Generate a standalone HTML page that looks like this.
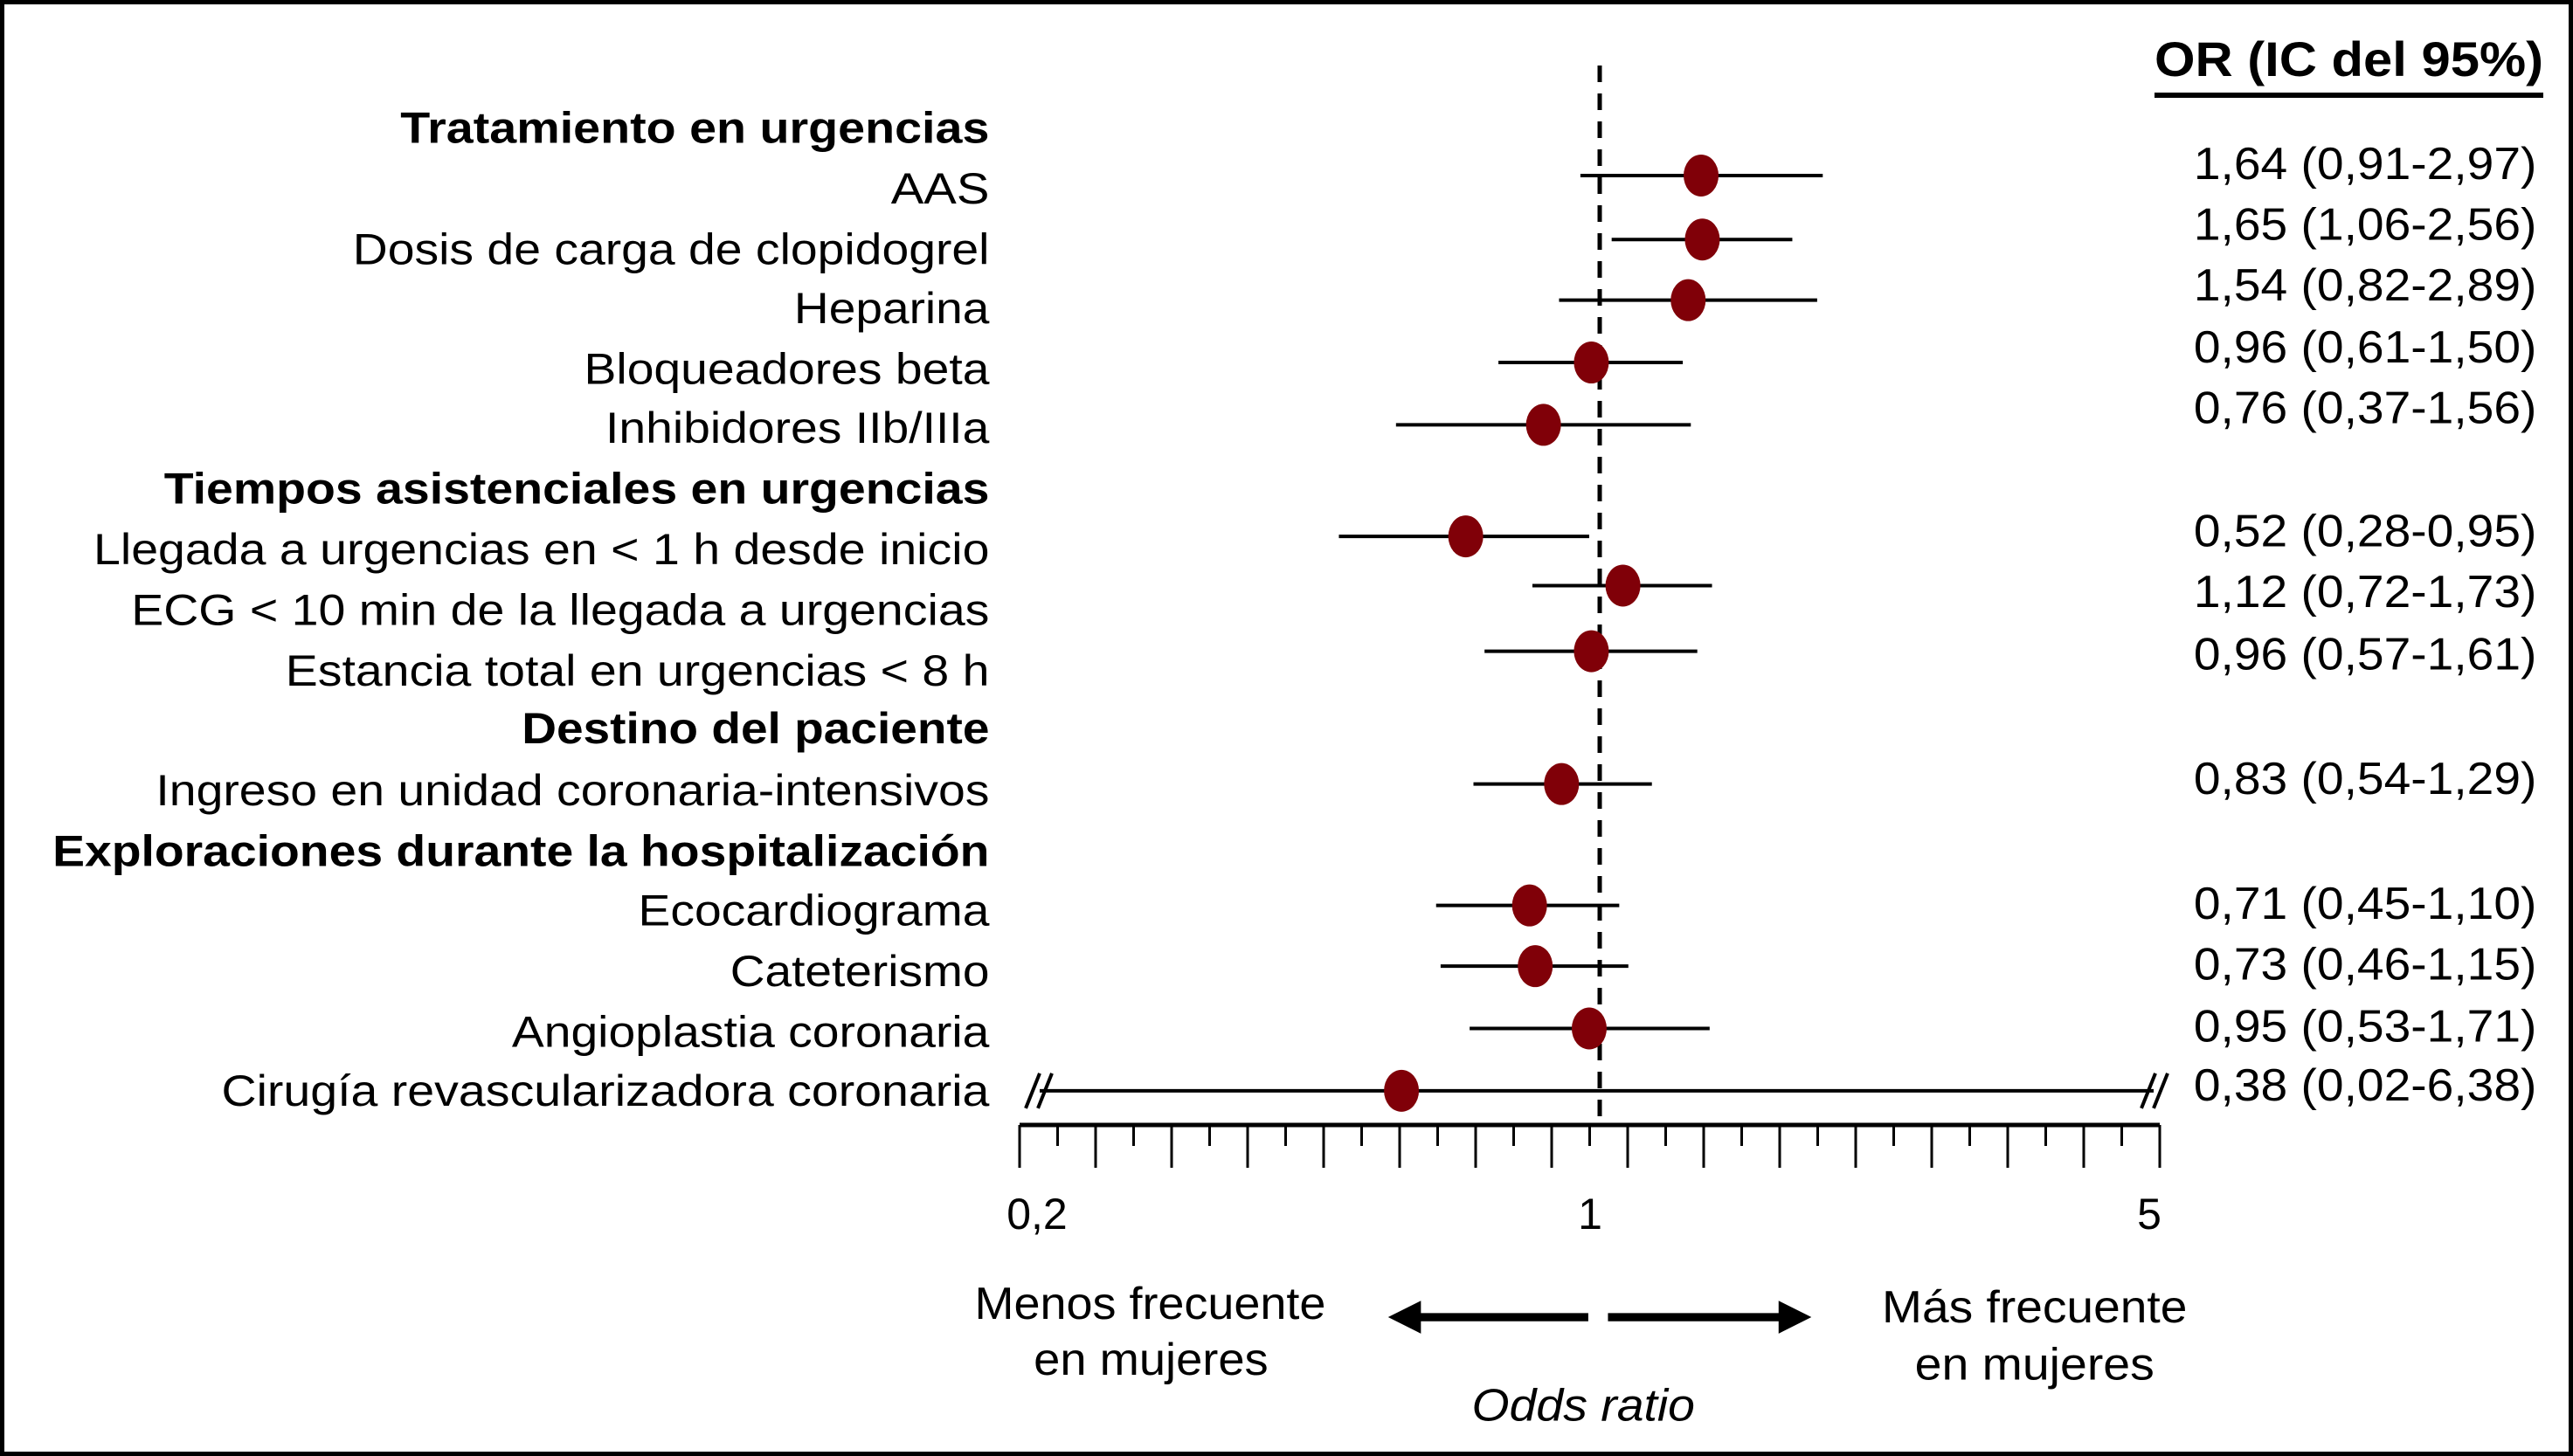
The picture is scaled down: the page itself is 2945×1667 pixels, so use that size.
<!DOCTYPE html>
<html><head><meta charset="utf-8"><style>
html,body{margin:0;padding:0;background:#fff}
svg{display:block}
text{font-family:"Liberation Sans",Arial,sans-serif;fill:#000}
</style></head><body>
<svg id="chart" width="2945" height="1667" viewBox="0 0 2945 1667" xmlns="http://www.w3.org/2000/svg">
<rect x="2.5" y="2.5" width="2940" height="1662" fill="#fff" stroke="#000" stroke-width="5"/>
<g id="g"></g>
</svg>
<script>
const labels=["AAS","Dosis de carga de clopidogrel","Heparina","Bloqueadores beta","Inhibidores IIb/IIIa","Llegada a urgencias en < 1 h desde inicio","ECG < 10 min de la llegada a urgencias","Estancia total en urgencias < 8 h","Ingreso en unidad coronaria-intensivos","Ecocardiograma","Cateterismo","Angioplastia coronaria","Cirugía revascularizadora coronaria"];
const orValues=[1.64,1.65,1.54,0.96,0.76,0.52,1.12,0.96,0.83,0.71,0.73,0.95,0.38];
const ciLow=[0.91,1.06,0.82,0.61,0.37,0.28,0.72,0.57,0.54,0.45,0.46,0.53,0.02];
const ciHigh=[2.97,2.56,2.89,1.50,1.56,0.95,1.73,1.61,1.29,1.10,1.15,1.71,6.38];
const orText=["1,64 (0,91-2,97)","1,65 (1,06-2,56)","1,54 (0,82-2,89)","0,96 (0,61-1,50)","0,76 (0,37-1,56)","0,52 (0,28-0,95)","1,12 (0,72-1,73)","0,96 (0,57-1,61)","0,83 (0,54-1,29)","0,71 (0,45-1,10)","0,73 (0,46-1,15)","0,95 (0,53-1,71)","0,38 (0,02-6,38)"];
const headers=["Tratamiento en urgencias","Tiempos asistenciales en urgencias","Destino del paciente","Exploraciones durante la hospitalización"];
const tickLabels=["0,2","1","5"];
const axisMin=0.2, axisMax=5;

const S=1.878;
const rowY=[115,152,188,225,261,335,372,409,482,555,592,629,665].map(v=>v*S);
const lineY=[107,146,183,221,259,327,357,397,478,552,589,627,665].map(v=>v*S);
const orY=[100,137,174,212,249,324,361,399,475,551,588,626,662].map(v=>v*S);
const labLeft=[543,215,484,356,369,57,80,174,95,389,445,312,135];
const hdrY=[78,298,444,519].map(v=>v*S);
const hdrLeft=[244,100,318,32];
const RIGHT=603*S;
const X1=1831, PPD=540, XMIN=1190, XMAX=2465;
const x=v=>X1+PPD*Math.log10(v);
const g=document.getElementById('g');
const NS="http://www.w3.org/2000/svg";
function mk(tag,attrs,txt){const e=document.createElementNS(NS,tag);for(const k in attrs)e.setAttribute(k,attrs[k]);if(txt!==undefined)e.textContent=txt;g.appendChild(e);return e;}

let ref=mk('line',{x1:X1,x2:X1,y1:75,y2:1288,stroke:'#000','stroke-width':5,'stroke-dasharray':'19 13'});



headers.forEach((h,i)=>{
  const t=mk('text',{x:hdrLeft[i]*S,y:hdrY[i],'font-size':50,'font-weight':'bold','dominant-baseline':'central',textLength:RIGHT-hdrLeft[i]*S,lengthAdjust:'spacingAndGlyphs'},h);
  
  
});
labels.forEach((l,i)=>{
  const t=mk('text',{x:labLeft[i]*S,y:rowY[i],'font-size':50,'dominant-baseline':'central',textLength:RIGHT-labLeft[i]*S,lengthAdjust:'spacingAndGlyphs'},l);
  
  
  const o=mk('text',{x:1337*S,y:orY[i],'font-size':52,'dominant-baseline':'central',textLength:209*S,lengthAdjust:'spacingAndGlyphs'},orText[i]);
  
  
  const clipL=ciLow[i]<axisMin, clipR=ciHigh[i]>axisMax;
  const lo=clipL?XMIN:x(ciLow[i]), hi=clipR?XMAX:x(ciHigh[i]);
  const ln=mk('line',{x1:lo,x2:hi,y1:lineY[i],y2:lineY[i],stroke:'#000','stroke-width':4});
  
  
  if(clipL){
    [-8,6].forEach(d=>{const b=mk('line',{x1:XMIN+d-8,y1:lineY[i]+20,x2:XMIN+d+8,y2:lineY[i]-20,stroke:'#000','stroke-width':4});
    
    });
  }
  if(clipR){
    [-6,8].forEach(d=>{const b=mk('line',{x1:XMAX+d-8,y1:lineY[i]+20,x2:XMAX+d+8,y2:lineY[i]-20,stroke:'#000','stroke-width':4});
    
    });
  }
  const p=mk('ellipse',{cx:x(orValues[i]),cy:lineY[i],rx:20,ry:24,fill:'#800008'});
  
  
});

let oh=mk('text',{x:2466,y:36*S,'font-size':56,'font-weight':'bold','dominant-baseline':'central',textLength:445,lengthAdjust:'spacingAndGlyphs'},'OR (IC del 95%)');


let ul=mk('rect',{x:2466,y:106,width:445,height:6,fill:'#000'});



let ax=mk('line',{x1:1167,x2:2472,y1:1288,y2:1288,stroke:'#000','stroke-width':5});


for(let k=0;k<31;k++){
  const tx=1167+k*(2472-1167)/30;
  const tk=mk('line',{x1:tx,x2:tx,y1:1288,y2:(k%2===0)?1337:1312,stroke:'#000','stroke-width':3});
  
  
}
const tickX=[1187,1820,2460];
tickLabels.forEach((t,i)=>{
  const e=mk('text',{x:tickX[i],y:1390,'font-size':50,'text-anchor':'middle','dominant-baseline':'central'},t);
  
  
});

function txt(s,l,r,y,name,extra){const e=mk('text',Object.assign({x:l*S,y:y*S,'font-size':52,'dominant-baseline':'central',textLength:(r-l)*S,lengthAdjust:'spacingAndGlyphs'},extra||{}),s);

}
txt('Menos frecuente',594,808,795,'less-frequent-label');
txt('en mujeres',630,773,829,'less-frequent-label-2');
txt('Más frecuente',1147,1333,797,'more-frequent-label');
txt('en mujeres',1167,1313,832,'more-frequent-label-2');
txt('Odds ratio',897,1033,857,'x-axis-title',{'font-style':'italic'});
let a1=mk('path',{d:`M${846*S} ${803*S} L${866*S} ${793*S} L${866*S} ${800.5*S} L${968*S} ${800.5*S} L${968*S} ${805.5*S} L${866*S} ${805.5*S} L${866*S} ${813*S} Z`,fill:'#000'});


let a2=mk('path',{d:`M${1104*S} ${803*S} L${1084*S} ${793*S} L${1084*S} ${800.5*S} L${980*S} ${800.5*S} L${980*S} ${805.5*S} L${1084*S} ${805.5*S} L${1084*S} ${813*S} Z`,fill:'#000'});


</script>
</body></html>
